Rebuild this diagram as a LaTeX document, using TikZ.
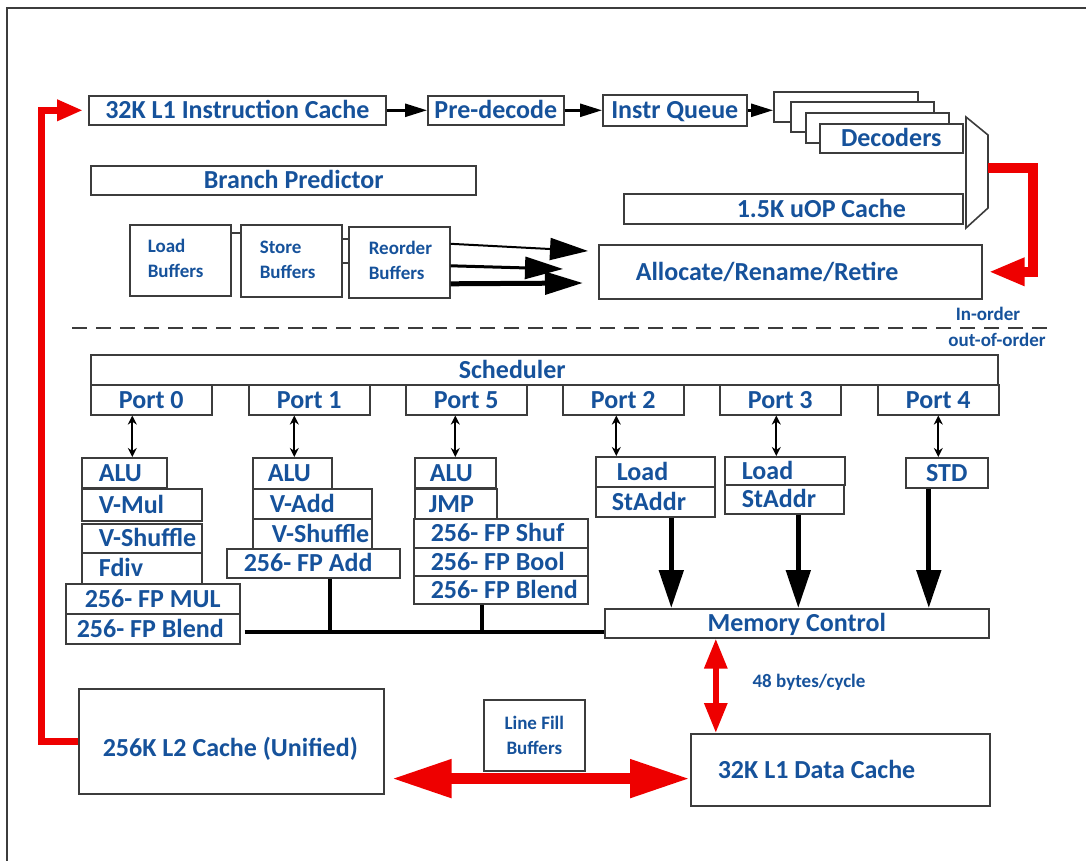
\documentclass[tikz,border=0pt]{standalone}
\usepackage{fontspec}
\setmainfont{Carlito}
\usetikzlibrary{arrows.meta}
\usetikzlibrary{positioning}

\definecolor{txtblue}{RGB}{22,82,155}
\definecolor{boxgray}{RGB}{60,60,60}
\definecolor{redline}{RGB}{238,0,0}

\newcommand{\mainsz}{\fontsize{26}{31}\selectfont\bfseries}
\newcommand{\smallsz}{\fontsize{19}{25}\selectfont\bfseries}

\tikzset{
  blk/.style={draw=boxgray, line width=1.6pt, fill=white, text=txtblue, font=\mainsz, inner ysep=0pt},
  oneline/.style={text height=17.8pt, text depth=1pt},
  small/.style={text=txtblue, font=\smallsz, inner sep=0pt},
  flow/.style={line width=2.5pt, -{Triangle[length=22pt,width=13pt]}},
  fat/.style={-{Triangle[length=38pt,width=22pt]}},
  portarrow/.style={line width=2pt, {Stealth[length=9pt,width=9pt]}-{Stealth[length=9pt,width=9pt]}},
  memarrow/.style={line width=5pt, -{Triangle[length=38pt,width=24pt]}},
  bus/.style={line width=4pt},
  link/.style={line width=1.6pt, boxgray},
  redfat/.style={redline, line width=10pt, -{Triangle[length=36pt,width=26pt]}},
  redthin/.style={redline, line width=7pt, -{Triangle[length=26pt,width=20pt]}},
  reddbl/.style={redline, line width=11pt, {Triangle[length=60pt,width=36pt]}-{Triangle[length=60pt,width=36pt]}},
  redv/.style={redline, line width=6pt, {Triangle[length=30pt,width=22pt]}-{Triangle[length=30pt,width=22pt]}},
  orderline/.style={boxgray, line width=1.5pt, dash pattern=on 15pt off 9pt},
}

% box with text set from the left, padding #7
\newcommand{\ubox}[8][oneline]{%
  \node[blk, #1, inner xsep=#7pt, minimum height={#6-#4}, anchor=north west]
    (#2) at (#3,#4) {\makebox[\dimexpr#5pt-#3pt-#7pt-#7pt\relax][l]{#8}};}
% box with centred text
\newcommand{\cbox}[7][oneline]{%
  \node[blk, #1, inner xsep=0pt, minimum width={#5-#3}, minimum height={#6-#4}, anchor=north west]
    (#2) at (#3,#4) {#7};}

\begin{document}
\begin{tikzpicture}[x=1pt, y=-1pt]
\useasboundingbox (0,0) rectangle (1086,861);
\draw[boxgray, line width=1.5pt] (7,861) -- (7,8) -- (1086,8);

% front end
\cbox{icache}{88}{95}{385}{124}{32K L1 Instruction Cache}
\cbox{predec}{427}{95}{563}{124}{Pre-decode}
\cbox{iq}{602}{94}{746}{125}{Instr Queue}
\cbox{dec1}{773}{91}{917}{121}{}
\cbox{dec2}{790}{101}{933}{131}{}
\cbox{dec3}{805}{112}{948}{142}{}
\cbox{dec}{819}{123}{962}{152}{Decoders}
\ubox{bp}{90}{165}{475}{194}{113}{Branch Predictor}
\ubox{uop}{623}{193}{962}{223}{113}{1.5K uOP Cache}
\draw[blk] (966,117) -- (988,135) -- (988,208) -- (966,228) -- cycle;
\coordinate (muxout) at (988,168);

\draw[flow] (icache) -- (predec);
\draw[flow] (predec) -- (iq);
\draw[flow] (iq.east) -- (iq.east -| dec1.west);

% buffers
\ubox[font=\smallsz]{ldbuf}{129}{224}{230}{295}{18}{\begin{tabular}{@{}l@{}}Load\\Buffers\end{tabular}}
\ubox[font=\smallsz]{stbuf}{240}{224}{341}{296}{19}{\begin{tabular}{@{}l@{}}Store\\Buffers\end{tabular}}
\ubox[font=\smallsz]{rob}{348}{226}{449}{297}{20}{\begin{tabular}{@{}l@{}}Reorder\\Buffers\end{tabular}}
\ubox{alloc}{598}{244}{981}{298}{37}{Allocate/Rename/Retire}

\draw[link] ([yshift=27.5]ldbuf.east) -- ([yshift=27.5]ldbuf.east -| stbuf.west);
\draw[link] ([yshift=22]stbuf.east) -- ([yshift=22]stbuf.east -| rob.west);
\draw[link] ([yshift=-2]stbuf.east) -- ([yshift=-2]stbuf.east -| rob.west);

\coordinate (t1) at (588,251);
\coordinate (t2) at (563,269);
\coordinate (t3) at (583,283);
\draw[fat, line width=2pt] ([yshift=18.5]rob.east) -- (t1);
\draw[fat, line width=3pt] ([yshift=-3.5]rob.east) -- (t2);
\draw[fat, line width=5pt] ([yshift=-21.5]rob.east) -- (t3);

\draw[redfat] (muxout) -- ++(45,0) |- ([xshift=6]alloc.east);

% in-order / out-of-order
\draw[orderline] (72,328) -- (1050,328);
\node[small] (inord) at (988,314) {In-order};
\node[small] (outord) at (997,340) {out-of-order};

% scheduler and ports
\ubox{sched}{90}{354}{997}{384}{368}{Scheduler}
\foreach \n/\x/\lab in {0/90/Port 0, 1/248/Port 1, 5/405/Port 5, 2/562/Port 2, 3/719/Port 3, 4/877/Port 4}
  \cbox{p\n}{\x}{384}{\x+121}{414}{\lab};

% execution units
\ubox{alu0}{81}{457}{166}{487}{17}{ALU}
\ubox{vmul0}{81}{488}{201}{520}{17}{V-Mul}
\ubox{vshuf0}{81}{523}{201}{552}{17}{V-Shuffle}
\ubox{fdiv0}{81}{552}{201}{583}{17}{Fdiv}
\ubox{fmul0}{65}{583}{239}{613}{19}{256- FP MUL}
\ubox{fblend0}{65}{613}{239}{643}{11}{256- FP Blend}

\ubox{alu1}{252}{457}{331}{488}{15}{ALU}
\ubox{vadd1}{252}{488}{371}{518}{17}{V-Add}
\ubox{vshuf1}{252}{518}{371}{548}{19}{V-Shuffle}
\ubox{fadd1}{226}{548}{399}{577}{17}{256- FP Add}

\ubox{alu5}{414}{457}{495}{487}{15}{ALU}
\ubox{jmp5}{414}{488}{496}{518}{14}{JMP}
\ubox{fshuf5}{413}{518}{587}{547}{17}{256- FP Shuf}
\ubox{fbool5}{413}{547}{587}{575}{17}{256- FP Bool}
\ubox{fblend5}{413}{575}{587}{603}{17}{256- FP Blend}

\ubox{ld2}{595}{456}{714}{486}{21}{Load}
\ubox{sa2}{595}{486}{714}{516}{16}{StAddr}
\ubox{ld3}{724}{456}{844}{484}{17}{Load}
\ubox{sa3}{724}{484}{843}{513}{17}{StAddr}
\cbox{std4}{905}{457}{987}{487}{STD}

\cbox{mem}{604}{608}{988}{637}{Memory Control}

\foreach \p/\u/\dx in {p0/alu0/-19, p1/alu1/-15, p5/alu5/-11, p2/ld2/-7, p3/ld3/-4, p4/std4/0}
  \draw[portarrow] ([xshift=\dx]\p.south) -- ([xshift=\dx]\p.south |- \u.north);

\draw[memarrow] ([xshift=16]sa2.south) -- ([xshift=16]sa2.south |- mem.north);
\draw[memarrow] ([xshift=14]sa3.south) -- ([xshift=14]sa3.south |- mem.north);
\draw[memarrow] ([xshift=-18]std4.south) -- ([xshift=-18]std4.south |- mem.north);

\draw[bus] ([xshift=4,yshift=-3]fblend0.east) -- ([yshift=-3]fblend0.east -| mem.west);
\draw[bus] ([xshift=16.5]fadd1.south) -- ([xshift=16.5,yshift=-3]fadd1.south |- fblend0.east);
\draw[bus] ([xshift=-19]fblend5.south) -- ([xshift=-19,yshift=-3]fblend5.south |- fblend0.east);

% caches
\ubox{l2}{78}{688}{383}{793}{24}{\raisebox{-7pt}{256K L2 Cache (Unified)}}
\cbox[font=\smallsz, align=center]{lfb}{483}{699}{584}{770}{Line Fill\\Buffers}
\ubox{l1d}{690}{733}{989}{805}{27}{32K L1 Data Cache}
\node[small] (bw) at (809,682) {48 bytes/cycle};

\draw[redthin, shorten >=5pt] (l2.west) -- ++(-37,0) |- (icache.west);
\draw[reddbl, shorten <=7pt] ([yshift=-7]lfb.south -| l2.east) -- ([yshift=-7]lfb.south -| l1d.west);
\draw[redv] ([xshift=-81]mem.south) -- ([xshift=-81]mem.south |- l1d.north);
\end{tikzpicture}
\end{document}
